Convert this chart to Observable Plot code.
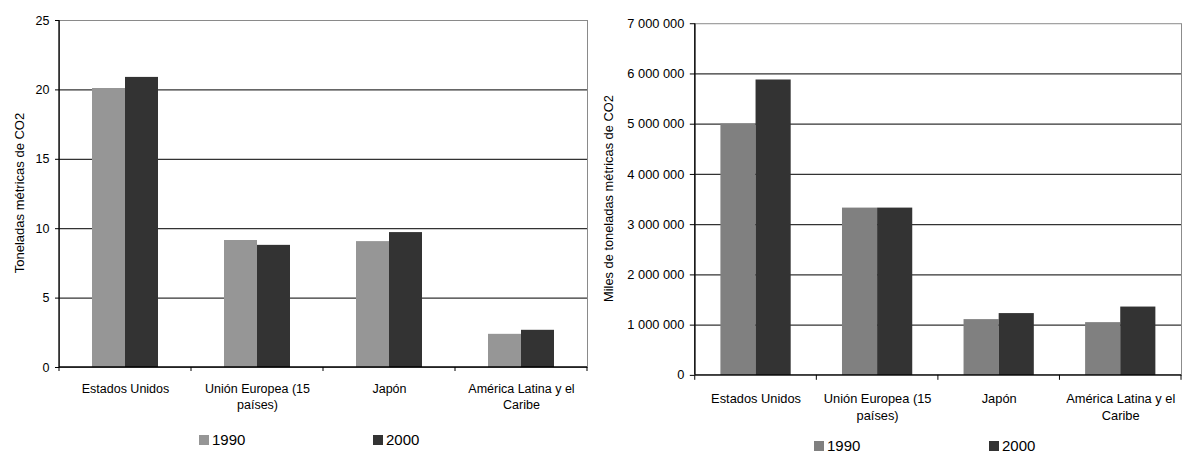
<!DOCTYPE html>
<html>
<head>
<meta charset="utf-8">
<script src="https://cdn.jsdelivr.net/npm/d3@7"></script>
<script src="https://cdn.jsdelivr.net/npm/@observablehq/plot@0.6"></script>
<style>
  html, body { margin: 0; padding: 0; background: #fff; overflow: hidden; }
  #wrap { position: relative; width: 1183px; height: 454px; overflow: hidden; font-family: "Liberation Sans", Arial, sans-serif; }
  .panel { position: absolute; top: 0; }
  .legend { position: absolute; font-size: 15px; color: #000; display: flex; align-items: center; line-height: 1; }
  .sw { display: inline-block; width: 10px; height: 10px; margin-right: 3px; }
</style>
</head>
<body>
<div id="wrap"></div>
<script>
// ---- data ----
const categories = ["Estados Unidos", "Unión Europea (15 países)", "Japón", "América Latina y el Caribe"];
const categoryLabels = ["Estados Unidos", "Unión Europea (15\npaíses)", "Japón", "América Latina y el\nCaribe"];
const years = ["1990", "2000"];
// Left: per-capita emissions (toneladas métricas de CO2)
const perCapita1990 = [20.1, 9.15, 9.07, 2.39];
const perCapita2000 = [20.9, 8.8, 9.72, 2.68];
const perCapitaTicks = [0, 5, 10, 15, 20, 25];
// Right: total emissions (miles de toneladas métricas de CO2)
const total1990 = [5000000, 3330000, 1110000, 1050000];
const total2000 = [5880000, 3330000, 1230000, 1360000];
const totalTicks = [0, 1000000, 2000000, 3000000, 4000000, 5000000, 6000000, 7000000];

const leftColors = ["#969696", "#333333"];
const rightColors = ["#808080", "#333333"];

function rows(v1, v2) {
  return categories.flatMap((c, i) => [
    {cat: c, year: years[0], value: v1[i]},
    {cat: c, year: years[1], value: v2[i]}
  ]);
}

// custom mark: axis lines + category boundary ticks (Excel style)
function axesMark(tickLen) {
  return (index, scales, values, dims) => {
    const {x, y} = scales;
    const bw = x.bandwidth();
    const g = d3.create("svg:g");
    const left = dims.marginLeft, right = dims.width - dims.marginRight;
    const top = dims.marginTop, y0 = y(0);
    g.append("line").attr("x1", left).attr("x2", right).attr("y1", y0).attr("y2", y0)
      .attr("stroke", "#000").attr("stroke-width", 1.3);
    g.append("line").attr("x1", left).attr("x2", left).attr("y1", top).attr("y2", y0)
      .attr("stroke", "#000").attr("stroke-width", 1.3);
    const xs = categories.map(c => x(c));
    xs.push(x(categories[categories.length - 1]) + bw);
    for (const xx of xs) {
      g.append("line").attr("x1", xx).attr("x2", xx).attr("y1", y0).attr("y2", y0 + tickLen)
        .attr("stroke", "#000");
    }
    return g.node();
  };
}

function chart(o) {
  const data = rows(o.v1, o.v2);
  const innerW = o.width - o.marginLeft - o.marginRight;
  const bw = innerW / categories.length;
  const a = o.groupInset * bw;
  return Plot.plot({
    width: o.width,
    height: o.height,
    marginLeft: o.marginLeft,
    marginRight: o.marginRight,
    marginTop: o.marginTop,
    marginBottom: o.marginBottom,
    style: {fontFamily: "'Liberation Sans', Arial, sans-serif", fontSize: o.fontSize + "px", background: "transparent", color: "#000", overflow: "visible"},
    x: {domain: categories, padding: 0, axis: null},
    y: {domain: [0, o.ticks[o.ticks.length - 1]], ticks: o.ticks, tickSize: o.tickSize, tickPadding: 6, label: null, tickFormat: o.tickFormat},
    marks: [
      Plot.frame({stroke: "#8a8a8a"}),
      Plot.ruleY(o.ticks.slice(1, -1), {stroke: "#333", strokeWidth: 1.3}),
      Plot.barY(data.filter(d => d.year === years[0]), {x: "cat", y: "value", fill: o.colors[0], insetLeft: a, insetRight: bw * 0.5}),
      Plot.barY(data.filter(d => d.year === years[1]), {x: "cat", y: "value", fill: o.colors[1], insetLeft: bw * 0.5, insetRight: a}),
      axesMark(o.tickSize),
      Plot.text(categories, {x: d => d, text: (d, i) => categoryLabels[i], frameAnchor: "bottom", lineAnchor: "top", dy: o.labelDy, lineHeight: 1.3, fill: "#000"}),
      Plot.text([o.yLabel], {frameAnchor: "left", textAnchor: "middle", rotate: -90, dx: o.yLabelDx, dy: o.yLabelDy, fill: "#000", fontSize: 13})
    ]
  });
}

const wrap = document.getElementById("wrap");

const left = chart({
  width: 590, height: 454, marginLeft: 59, marginRight: 3, marginTop: 20, marginBottom: 87,
  v1: perCapita1990, v2: perCapita2000, ticks: perCapitaTicks, colors: leftColors,
  groupInset: 0.25, tickSize: 4, fontSize: 12.5, labelDy: 14,
  tickFormat: d => String(d), yLabel: "Toneladas métricas de CO2", yLabelDx: -40, yLabelDy: -1
});
const lp = document.createElement("div"); lp.className = "panel"; lp.style.left = "0px";
lp.appendChild(left); wrap.appendChild(lp);

const right = chart({
  width: 600, height: 454, marginLeft: 106, marginRight: 2, marginTop: 23.5, marginBottom: 74.7,
  v1: total1990, v2: total2000, ticks: totalTicks, colors: rightColors,
  groupInset: 0.211, tickSize: 5, fontSize: 13, labelDy: 16,
  tickFormat: d => d3.format(",")(d).replace(/,/g, " "), yLabel: "Miles de toneladas métricas de CO2", yLabelDx: -87, yLabelDy: -1
});
const rp = document.createElement("div"); rp.className = "panel"; rp.style.left = "590px";
rp.appendChild(right); wrap.appendChild(rp);

// legends
function legend(x, y, gap, colors) {
  const d = document.createElement("div");
  d.className = "legend";
  d.style.left = x + "px"; d.style.top = y + "px";
  years.forEach((yr, i) => {
    const item = document.createElement("span");
    item.style.display = "inline-flex"; item.style.alignItems = "center";
    item.style.width = (i === 0 ? gap : 50) + "px";
    const sw = document.createElement("span"); sw.className = "sw"; sw.style.background = colors[i];
    item.appendChild(sw);
    item.appendChild(document.createTextNode(yr));
    d.appendChild(item);
  });
  wrap.appendChild(d);
}
legend(199, 432, 174, leftColors);
legend(814, 438, 175, rightColors);
</script>
</body>
</html>
